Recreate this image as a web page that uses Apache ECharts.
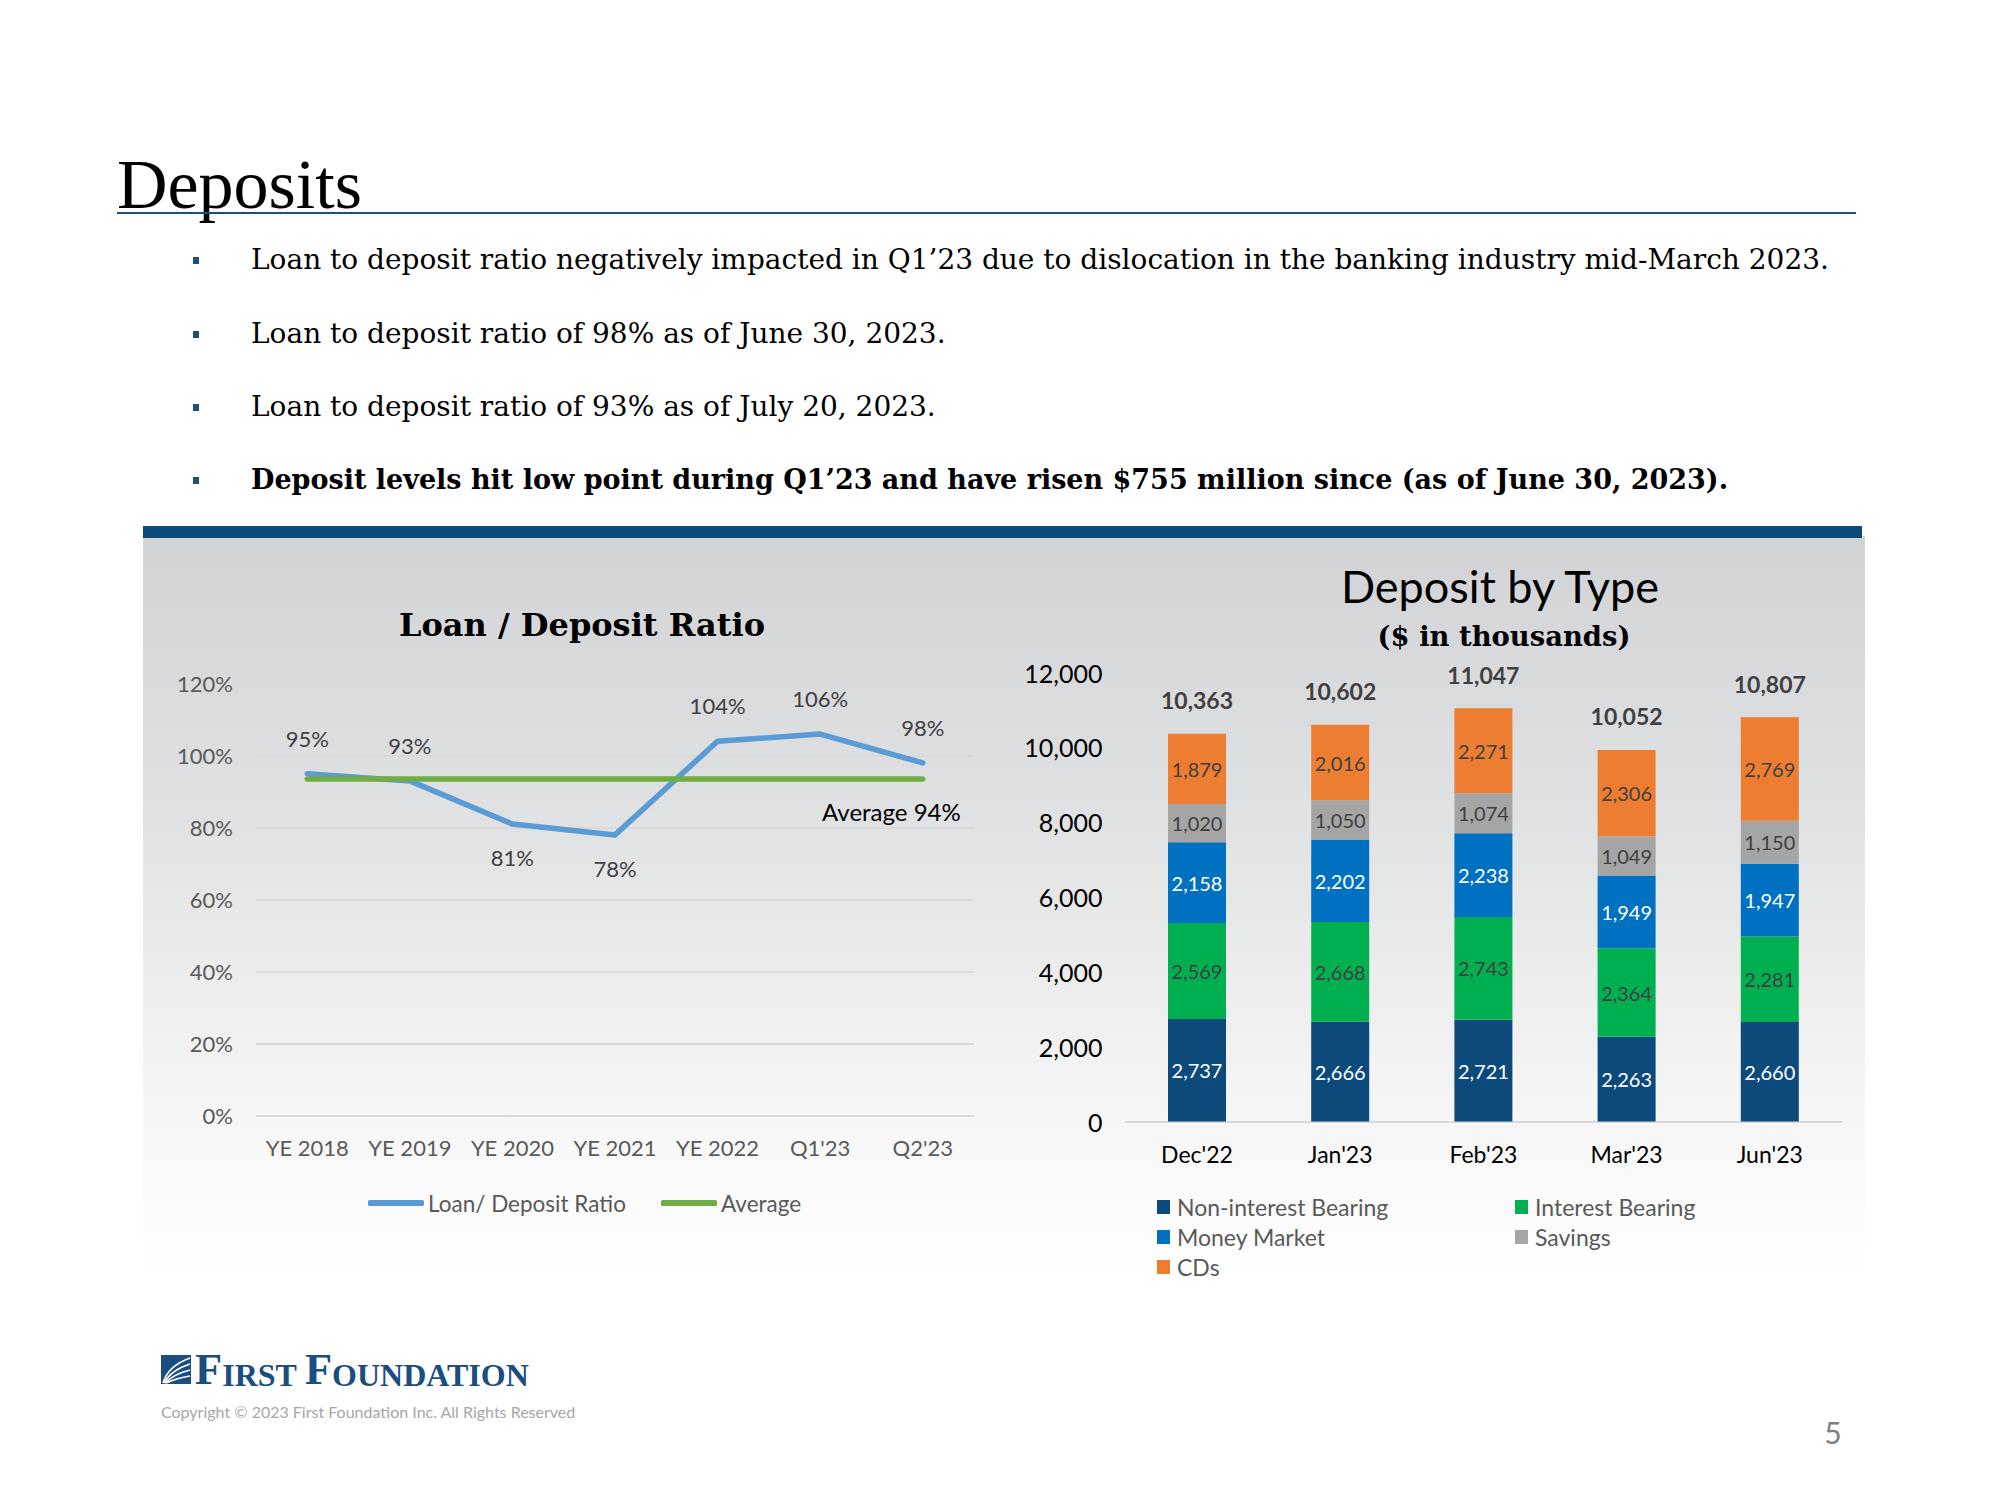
<!DOCTYPE html>
<html><head><meta charset="utf-8">
<script src="https://cdn.jsdelivr.net/npm/echarts@6/dist/echarts.min.js"></script>
<style>html,body{margin:0;padding:0;background:#fff}#c{width:2000px;height:1500px}</style>
</head><body><div id="c"></div>
<script>
// ---------- data ----------
const ratioCategories = ['YE 2018','YE 2019','YE 2020','YE 2021','YE 2022',"Q1'23","Q2'23"];
const ratioValues = [95, 93, 81, 78, 104, 106, 98];
const averageValues = [93.5, 93.5, 93.5, 93.5, 93.5, 93.5, 93.5];
const averageLabel = 'Average 94%';
const depositMonths = ["Dec'22","Jan'23","Feb'23","Mar'23","Jun'23"];
const nonInterestBearing = [2737, 2666, 2721, 2263, 2660];
const interestBearing = [2569, 2668, 2743, 2364, 2281];
const moneyMarket = [2158, 2202, 2238, 1949, 1947];
const savings = [1020, 1050, 1074, 1049, 1150];
const cds = [1879, 2016, 2271, 2306, 2769];
const depositTotals = [10363, 10602, 11047, 10052, 10807];
const bulletTexts = [
  'Loan to deposit ratio negatively impacted in Q1\u201923 due to dislocation in the banking industry mid-March 2023.',
  'Loan to deposit ratio of 98% as of June 30, 2023.',
  'Loan to deposit ratio of 93% as of July 20, 2023.',
  'Deposit levels hit low point during Q1\u201923 and have risen $755 million since (as of June 30, 2023).'
];

// ---------- styling ----------
const SANS = 'Lato, "Open Sans", sans-serif';
const SERIF = '"DejaVu Serif", serif';
const ratioLabelSide = ['top','top','bottom','bottom','top','top','top'];
const fmt = v => Number(v).toLocaleString('en-US');

const chart = echarts.init(document.getElementById('c'), null, {renderer: 'svg', width: 2000, height: 1500});

const ratioData = ratioValues.map((v, i) => ({
  value: v,
  label: {position: ratioLabelSide[i], distance: ratioLabelSide[i] === 'top' ? 24 : 22}
}));
const avgData = averageValues.map((v, i) => i === averageValues.length - 1 ? {
  value: v,
  label: {show: true, formatter: averageLabel, position: 'bottom', align: 'right', distance: 20, offset: [38, 0],
          color: '#000', fontSize: 24, fontFamily: SANS}
} : v);

function segLabel(color) {
  return {show: true, position: 'inside', color: color, fontSize: 20, fontFamily: SANS,
          formatter: p => fmt(p.value)};
}
function barSeries(name, data, color, labelColor) {
  return {name, type: 'bar', stack: 'dep', xAxisIndex: 1, yAxisIndex: 1, data, barWidth: 58,
          itemStyle: {color}, label: segLabel(labelColor), emphasis: {disabled: true}};
}

const LOGO = '#1A4E80';
const graphics = [
  // panel background
  {type: 'rect', z: -10, shape: {x: 143, y: 536, width: 1722, height: 744},
   style: {fill: {type: 'linear', x: 0, y: 0, x2: 0, y2: 1, colorStops: [
     {offset: 0, color: '#d1d3d4'}, {offset: 0.35, color: '#dfe0e1'}, {offset: 0.78, color: '#f6f6f6'}, {offset: 1, color: '#ffffff'}]}}},
  {type: 'rect', z: -9, shape: {x: 143, y: 526, width: 1719, height: 12}, style: {fill: '#0D4A7C'}},
  // page title
  {type: 'text', x: 117, y: 184, style: {text: 'Deposits', font: '70px "Liberation Serif", serif', fill: '#000', verticalAlign: 'middle'}},
  {type: 'line', shape: {x1: 117, y1: 213, x2: 1856, y2: 213}, style: {stroke: '#1F4E79', lineWidth: 2}},
  // chart titles
  {type: 'text', x: 582, y: 625, style: {text: 'Loan / Deposit Ratio', font: 'bold 32px ' + SERIF, fill: '#000', align: 'center', verticalAlign: 'middle'}},
  {type: 'text', x: 1500, y: 586, style: {text: 'Deposit by Type', font: '45px ' + SANS, fill: '#000', align: 'center', verticalAlign: 'middle'}},
  {type: 'text', x: 1504, y: 636, style: {text: '($ in thousands)', font: 'bold 27.4px ' + SERIF, fill: '#000', align: 'center', verticalAlign: 'middle'}},
  // footer logo
  {type: 'rect', shape: {x: 161, y: 1355, width: 30, height: 29}, style: {fill: LOGO}},
  {type: 'bezierCurve', shape: {x1: 163, y1: 1383, cpx1: 168, cpy1: 1366, x2: 190, y2: 1358}, style: {stroke: '#fff', lineWidth: 1.6, fill: null}},
  {type: 'bezierCurve', shape: {x1: 164, y1: 1383, cpx1: 171, cpy1: 1370, x2: 190, y2: 1364}, style: {stroke: '#fff', lineWidth: 1.6, fill: null}},
  {type: 'bezierCurve', shape: {x1: 165, y1: 1383, cpx1: 174, cpy1: 1374, x2: 190, y2: 1370}, style: {stroke: '#fff', lineWidth: 1.6, fill: null}},
  {type: 'bezierCurve', shape: {x1: 166, y1: 1383, cpx1: 177, cpy1: 1378, x2: 190, y2: 1376}, style: {stroke: '#fff', lineWidth: 1.6, fill: null}},
  {type: 'text', x: 195, y: 1391, style: {
    text: '{b|F}{s|IRST} {b|F}{s|OUNDATION}', verticalAlign: 'bottom',
    rich: {b: {font: 'bold 44.5px "Liberation Serif", serif', fill: LOGO, color: LOGO, verticalAlign: 'bottom'},
           s: {font: 'bold 32px "Liberation Serif", serif', fill: LOGO, color: LOGO, verticalAlign: 'bottom'}},
    font: 'bold 32px "Liberation Serif", serif', fill: LOGO}},
  {type: 'text', x: 161, y: 1411, style: {text: 'Copyright \u00a9 2023 First Foundation Inc. All Rights Reserved', font: '16px ' + SANS, fill: '#a6a6a6', verticalAlign: 'middle'}},
  {type: 'text', x: 1833, y: 1432, style: {text: '5', font: '30px ' + SANS, fill: '#7f7f7f', align: 'center', verticalAlign: 'middle'}}
];
const bulletY = [259, 333, 406, 479];
bulletTexts.forEach((t, i) => {
  graphics.push({type: 'rect', shape: {x: 193, y: bulletY[i] - 2, width: 6, height: 7}, style: {fill: '#1F4E79'}});
  graphics.push({type: 'text', x: 251, y: bulletY[i], style: {text: t, font: (i === 3 ? 'bold 27px ' : '28px ') + SERIF, fill: '#000', verticalAlign: 'middle'}});
});

const legendLeft = (name, left) => ({
  data: [name], left, top: 1191, padding: 0, icon: 'roundRect', itemWidth: 56, itemHeight: 6,
  textStyle: {fontSize: 22.5, color: '#595959', fontFamily: SANS, lineHeight: 24, padding: [0, 0, 0, -1]}
});
const legendRight = (name, left, cy) => ({
  data: [name], left, top: cy - 13, padding: 0, icon: 'rect', itemWidth: 13, itemHeight: 14,
  textStyle: {fontSize: 23, color: '#595959', fontFamily: SANS, lineHeight: 26, padding: [0, 0, 0, 2]}
});

chart.setOption({
  animation: false,
  backgroundColor: '#ffffff',
  graphic: {elements: graphics},
  legend: [
    legendLeft('Loan/ Deposit Ratio', 368),
    legendLeft('Average', 661),
    legendRight('Non-interest Bearing', 1157, 1207),
    legendRight('Interest Bearing', 1515, 1207),
    legendRight('Money Market', 1157, 1237),
    legendRight('Savings', 1515, 1237),
    legendRight('CDs', 1157, 1267)
  ],
  grid: [
    {left: 256, width: 718, top: 683.7, height: 432},
    {left: 1125.4, width: 716, top: 672.5, height: 449}
  ],
  xAxis: [
    {type: 'category', gridIndex: 0, data: ratioCategories, boundaryGap: true,
     axisLine: {show: false}, axisTick: {show: false},
     axisLabel: {interval: 0, fontSize: 22, color: '#595959', fontFamily: SANS, margin: 20, lineHeight: 24}},
    {type: 'category', gridIndex: 1, data: depositMonths, boundaryGap: true,
     axisLine: {show: true, lineStyle: {color: '#d9d9d9', width: 2}}, axisTick: {show: false},
     axisLabel: {interval: 0, fontSize: 23, color: '#000', fontFamily: SANS, margin: 19, lineHeight: 26}}
  ],
  yAxis: [
    {type: 'value', gridIndex: 0, min: 0, max: 120, interval: 20,
     axisLine: {show: false}, axisTick: {show: false},
     splitLine: {show: true, lineStyle: {color: '#d9d9d9', width: 2}},
     axisLabel: {formatter: '{value}%', fontSize: 22, color: '#595959', fontFamily: SANS, margin: 23}},
    {type: 'value', gridIndex: 1, min: 0, max: 12000, interval: 2000,
     axisLine: {show: false}, axisTick: {show: false}, splitLine: {show: false},
     axisLabel: {formatter: v => fmt(v), fontSize: 25, color: '#000', fontFamily: SANS, margin: 23}}
  ],
  series: [
    {name: 'Loan/ Deposit Ratio', type: 'line', xAxisIndex: 0, yAxisIndex: 0, data: ratioData,
     color: '#5B9BD5', lineStyle: {width: 5.5, color: '#5B9BD5', cap: 'round', join: 'round'},
     symbol: 'circle', symbolSize: 1, showSymbol: true, itemStyle: {color: '#5B9BD5'},
     label: {show: true, formatter: p => p.value + '%', fontSize: 22, color: '#404040', fontFamily: SANS},
     emphasis: {disabled: true}, z: 3},
    {name: 'Average', type: 'line', xAxisIndex: 0, yAxisIndex: 0, data: avgData,
     color: '#70AD47', lineStyle: {width: 5.5, color: '#70AD47', cap: 'round'},
     symbol: 'circle', symbolSize: 1, showSymbol: true, itemStyle: {color: '#70AD47'},
     label: {show: false}, emphasis: {disabled: true}, z: 4},
    barSeries('Non-interest Bearing', nonInterestBearing, '#0D4A7C', '#ffffff'),
    barSeries('Interest Bearing', interestBearing, '#00B050', '#404040'),
    barSeries('Money Market', moneyMarket, '#0070C0', '#ffffff'),
    barSeries('Savings', savings, '#A5A5A5', '#404040'),
    barSeries('CDs', cds, '#ED7D31', '#404040'),
    {name: 'Total', type: 'bar', stack: 'dep', xAxisIndex: 1, yAxisIndex: 1, barWidth: 58,
     data: depositTotals.map(() => 0), itemStyle: {color: 'rgba(0,0,0,0)'},
     label: {show: true, position: 'top', distance: 22, fontSize: 23, fontWeight: 'bold', color: '#404040', fontFamily: SANS,
             formatter: p => fmt(depositTotals[p.dataIndex])},
     emphasis: {disabled: true}}
  ]
});
</script></body></html>
